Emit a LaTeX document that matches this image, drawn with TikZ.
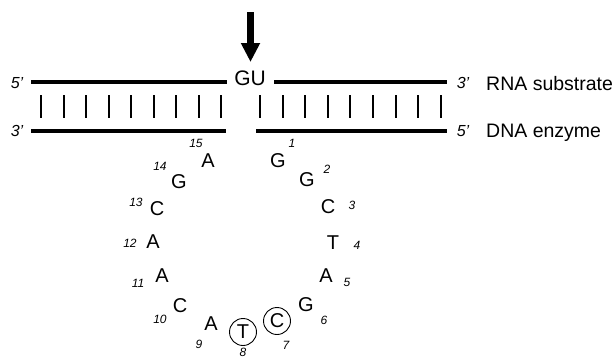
\documentclass[tikz,border=0pt]{standalone}
\usepackage{fontspec}
\setmainfont{Liberation Sans}
\usetikzlibrary{arrows.meta}
\tikzset{
  strand/.style={line width=4pt},
  pair/.style={line width=2pt},
  endlbl/.style={font=\fontsize{16}{19}\selectfont\itshape, inner sep=0pt},
  title/.style={font=\fontsize{19.5}{23}\selectfont, inner sep=0pt, anchor=base west},
  base/.style={font=\fontsize{20}{24}\selectfont, inner sep=0pt},
  num/.style={font=\fontsize{12}{14}\selectfont\itshape, inner sep=0pt},
  ring/.style={draw, circle, line width=0.9pt, minimum size=27pt, inner sep=0pt},
  cut/.style={line width=6.5pt, -{Triangle[width=18pt,length=19pt]}}
}
\begin{document}
\begin{tikzpicture}[x=1pt,y=-1pt]
\useasboundingbox (0,0) rectangle (614,357);
% strands
\coordinate (tla) at (31,82);  \coordinate (tlb) at (227,82);
\coordinate (tra) at (274,82); \coordinate (trb) at (447,82);
\coordinate (bla) at (31,130.5);  \coordinate (blb) at (226,130.5);
\coordinate (bra) at (256,130.5); \coordinate (brb) at (447,130.5);
\draw[strand] (tla) -- (tlb);
\draw[strand] (tra) -- (trb);
\draw[strand] (bla) -- (blb);
\draw[strand] (bra) -- (brb);
% base-pair ticks
\foreach \i in {0,...,8}{
  \coordinate (lt\i) at ({41+22.5*\i},95);
  \coordinate (lb\i) at ({41+22.5*\i},118);
  \draw[pair] (lt\i) -- (lb\i);
  \coordinate (rt\i) at ({260+22.6*\i},95);
  \coordinate (rb\i) at ({260+22.6*\i},118);
  \draw[pair] (rt\i) -- (rb\i);
}
% end labels
\node[endlbl] (l5) at (17,83) {5’};
\node[endlbl] (l3) at (17,131) {3’};
\node[endlbl] (r3) at (463,83) {3’};
\node[endlbl] (r5) at (463,131) {5’};
\node[title] (rna) at (486,90) {RNA substrate};
\node[title] (dna) at (486,137) {DNA enzyme};
% cleavage site
\node[font=\fontsize{21}{25}\selectfont, inner sep=0pt] (gu) at (250,78) {GU};
\coordinate (arrtop) at (250.5,12);
\coordinate (arrtip) at (250.5,62);
\draw[cut] (arrtop) -- (arrtip);
% catalytic loop
\node[base] (b1) at (278,161) {G};
\node[base] (b2) at (307,180) {G};
\node[base] (b3) at (328,207) {C};
\node[base] (b4) at (333,243) {T};
\node[base] (b5) at (326,276) {A};
\node[base] (b6) at (306,305) {G};
\node[base] (b7) at (277,321) {C};
\node[base] (b8) at (243,332) {T};
\node[base] (b9) at (211,324) {A};
\node[base] (b10) at (180,306) {C};
\node[base] (b11) at (162,276) {A};
\node[base] (b12) at (153,242) {A};
\node[base] (b13) at (157,209) {C};
\node[base] (b14) at (179,182) {G};
\node[base] (b15) at (208,161) {A};
\node[ring] (c7) at (b7) {};
\node[ring] (c8) at (b8) {};
% position numbers
\node[num] (n1) at (292,143) {1};
\node[num] (n2) at (327,169) {2};
\node[num] (n3) at (352,205) {3};
\node[num] (n4) at (357,245) {4};
\node[num] (n5) at (347,282) {5};
\node[num] (n6) at (324,320) {6};
\node[num] (n7) at (286,345) {7};
\node[num] (n8) at (243,352) {8};
\node[num] (n9) at (199,344) {9};
\node[num] (n10) at (160,319) {10};
\node[num] (n11) at (138,283) {11};
\node[num] (n12) at (130,243) {12};
\node[num] (n13) at (136,202) {13};
\node[num] (n14) at (160,166) {14};
\node[num] (n15) at (196,143) {15};
\end{tikzpicture}
\end{document}
